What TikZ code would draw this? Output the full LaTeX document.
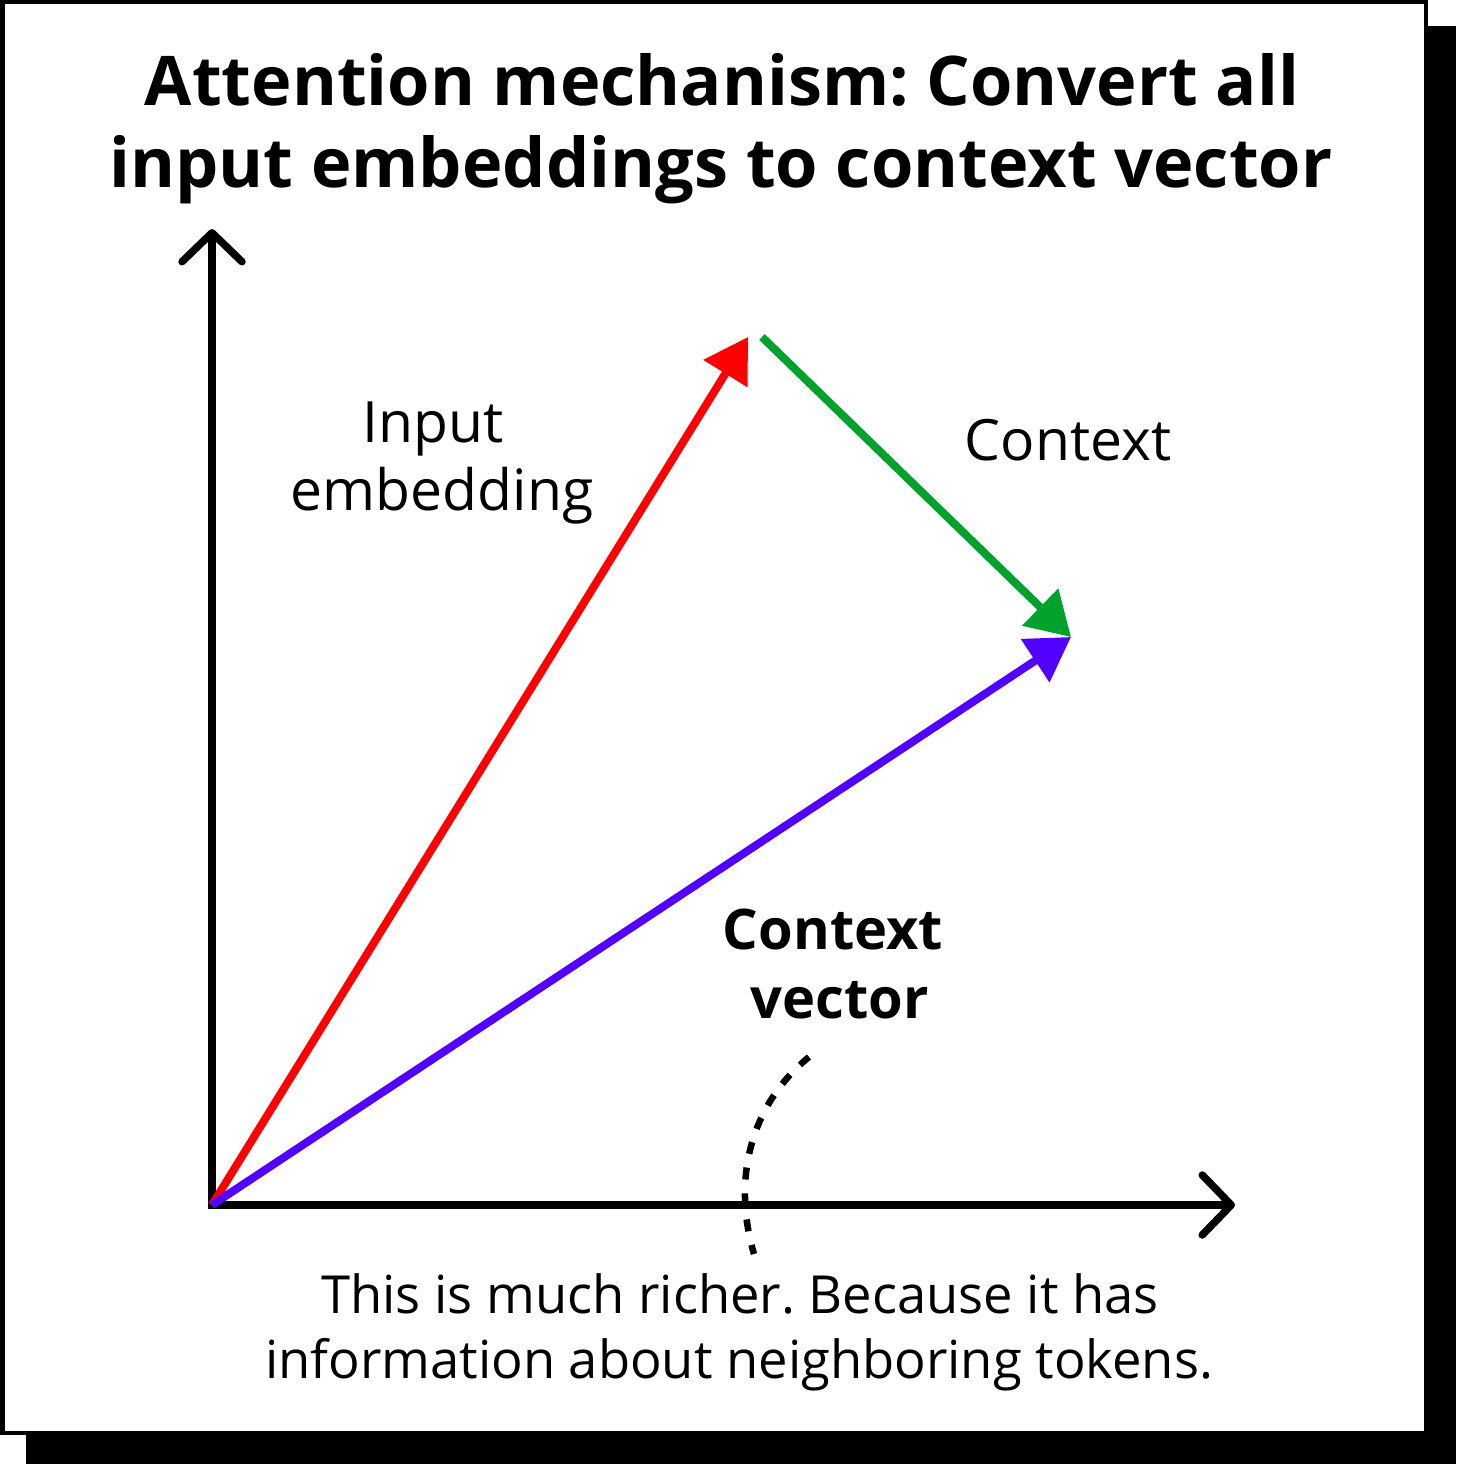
\documentclass[tikz,border=0pt]{standalone}
\usepackage{fontspec}
\setmainfont{Open Sans}
\usetikzlibrary{arrows.meta}
\frenchspacing
\definecolor{vred}{HTML}{FF0000}
\definecolor{vgreen}{HTML}{00A22C}
\definecolor{vblue}{HTML}{5200FF}
\tikzset{
  titlefont/.style={font=\fontsize{68.5}{80}\selectfont\bfseries, inner sep=0pt, anchor=base},
  labelfont/.style={font=\fontsize{57}{64}\selectfont, inner sep=0pt, anchor=base},
  boldlabel/.style={font=\fontsize{56}{64}\selectfont\bfseries, inner sep=0pt, anchor=base},
  notefont/.style={font=\fontsize{52.5}{60}\selectfont, inner sep=0pt, anchor=base},
  axis/.style={line width=7.5pt, line join=miter,
    {Straight Barb[length=29pt,width=60pt,round]}-{Straight Barb[length=29pt,width=60pt,round]}},
  vec/.style={line width=8pt, -{Triangle[length=43pt,width=50pt]}},
  dotline/.style={line width=6.5pt, dash pattern=on 12pt off 14pt},
}
\begin{document}
\begin{tikzpicture}[x=1pt,y=-1pt]
\useasboundingbox (0,0) rectangle (1456,1464);
% frame with shadow
\fill[black] (26,26) rectangle (1456,1464);
\filldraw[fill=white, draw=black, line width=4.5pt] (2.25,2.25) rectangle (1426,1433);
% title
\node[titlefont] (t1) at (722,105) {Attention mechanism: Convert all};
\node[titlefont] (t2) at (721,187) {input embeddings to context vector};
% axes
\coordinate (O) at (212,1205);
\coordinate (Ytip) at (212,229);
\coordinate (Xtip) at (1235,1205);
\draw[axis] (Ytip) -- (O) -- (Xtip);
% vectors
\coordinate (R) at (748,337);
\coordinate (Gs) at (762,337);
\coordinate (P) at (1071,637);
\draw[vec, vred] (O) -- (R);
\draw[vec, vgreen] (Gs) -- (P);
\draw[vec, vblue] (O) -- (P);
% labels
\node[labelfont] (in1) at (433,442) {Input};
\node[labelfont] (in2) at (442,510) {embedding};
\node[labelfont] (ctx) at (1068,460) {Context};
\node[boldlabel] (cv1) at (833,949) {Context};
\node[boldlabel] (cv2) at (840,1018) {vector};
\node[notefont] (n1) at (740,1313) {This is much richer. Because it has};
\node[notefont] (n2) at (739,1378) {information about neighboring tokens.};
% dashed connector
\coordinate (ds) at (809,1057);
\coordinate (de) at (754,1254);
\draw[dotline] (ds) .. controls (750,1105) and (732,1180) .. (de);
\end{tikzpicture}
\end{document}
